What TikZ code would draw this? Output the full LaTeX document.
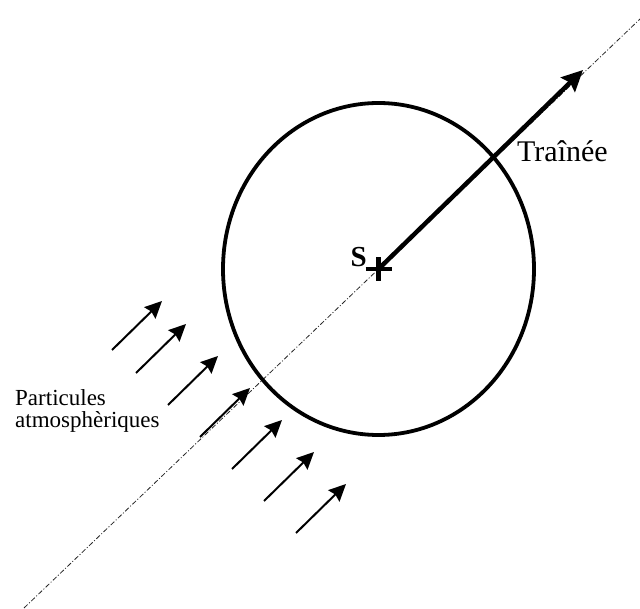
\documentclass[tikz,border=0pt]{standalone}
\usepackage{fontspec}
\setmainfont{Liberation Serif}
\newfontfamily\sboldfont{Liberation Serif Bold}
\usetikzlibrary{arrows.meta,calc}
\begin{document}
\begin{tikzpicture}[x=1pt,y=1pt,
  axisline/.style={line width=0.8pt, dash pattern=on 5pt off 2pt on 1pt off 2pt, black!85},
  particle/.style={line width=2pt, -{Stealth[length=17pt,width=16pt,inset=2pt]}},
  drag/.style={line width=4.5pt, -{Stealth[length=21pt,width=20pt,inset=3pt]}},
  body/.style={line width=3.8pt}]
\useasboundingbox (0,-609) rectangle (640,0);
% axis
\coordinate (c) at (378.5,-269);
\coordinate (a1) at (24,-608);
\coordinate (a2) at (640,-19);
\draw[axisline] (a1) -- (a2);
% satellite body
\draw[body] (c) ellipse [x radius=155.5, y radius=166];
% drag arrow
\coordinate (dt) at (583,-70);
\draw[drag] (c) -- (dt);
% centre cross
\draw[line width=4.5pt] ($(c)+(-13,0)$) -- ($(c)+(13,0)$);
\draw[line width=4.5pt] ($(c)+(0,-12)$) -- ($(c)+(0,12)$);
\node[font=\sboldfont\fontsize{29}{32}\selectfont, anchor=base east, inner sep=0pt] (S) at (367,-267) {S};
\node[font=\fontsize{30}{32}\selectfont, anchor=base west, inner sep=0pt] (tr) at (517,-162) {Traînée};
\node[font=\fontsize{23}{22}\selectfont, anchor=base west, inner sep=0pt, align=left] (pa) at (15,-428) {Particules\\atmosphèriques};
% particle arrows
\foreach \i/\x/\y in {1/112/350, 2/136/373, 3/168/405, 4/200/437, 5/232/469, 6/264/501, 7/296/533} {
  \coordinate (p\i s) at (\x,-\y);
  \coordinate (p\i e) at (\x+50,-\y+49);
  \draw[particle] (p\i s) -- (p\i e);
}
\end{tikzpicture}
\end{document}
